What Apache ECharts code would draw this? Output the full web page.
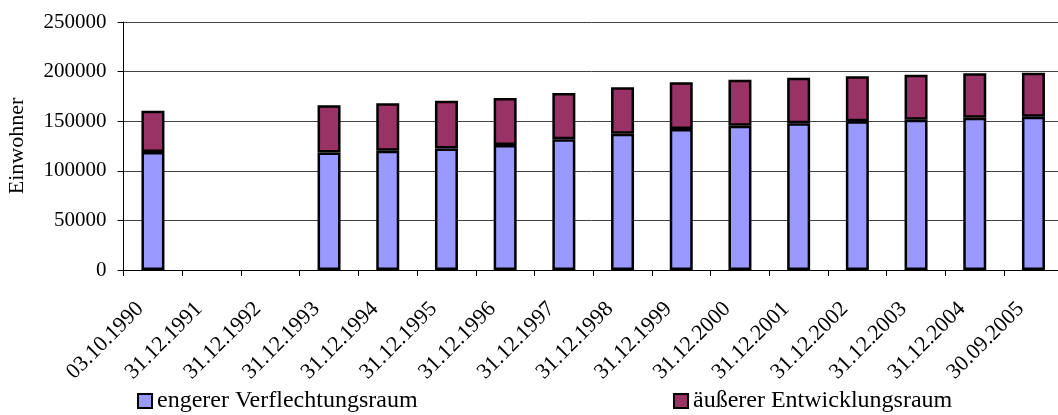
<!DOCTYPE html>
<html>
<head>
<meta charset="utf-8">
<script src="https://cdn.jsdelivr.net/npm/echarts@6/dist/echarts.min.js"></script>
<style>
  html, body { margin: 0; padding: 0; background: #fff; }
  #chart { width: 1058px; height: 415px; }
</style>
</head>
<body>
<div id="chart"></div>
<script>
// Stichtage
const categories = [
  '03.10.1990', '31.12.1991', '31.12.1992', '31.12.1993', '31.12.1994',
  '31.12.1995', '31.12.1996', '31.12.1997', '31.12.1998', '31.12.1999',
  '31.12.2000', '31.12.2001', '31.12.2002', '31.12.2003', '31.12.2004',
  '30.09.2005'
];

// Einwohner im engeren Verflechtungsraum
const engererVerflechtungsraum = [
  119000, null, null, 118500, 120300, 122600, 126000, 131700, 137400,
  142100, 145500, 147900, 149900, 151500, 153500, 154500
];

// Einwohner im äußeren Entwicklungsraum
const aeussererEntwicklungsraum = [
  41500, null, null, 47700, 47700, 48100, 47400, 46700, 46800,
  47100, 46300, 46000, 45300, 45400, 44800, 44400
];

const yTicks = [0, 50000, 100000, 150000, 200000, 250000];

const font = '"Liberation Serif", "Times New Roman", serif';

const chart = echarts.init(document.getElementById('chart'), null, { renderer: 'canvas' });

function makeLegend(name, left) {
  return {
    data: [name],
    left: left,
    top: 389,
    padding: 0,
    icon: 'rect',
    itemWidth: 14, itemHeight: 14, itemGap: 0,
    textStyle: { fontFamily: font, fontSize: 24, color: '#000' },
    itemStyle: { borderColor: '#000', borderWidth: 2 }
  };
}

chart.setOption({
  animation: false,
  backgroundColor: '#ffffff',
  textStyle: { fontFamily: font, color: '#000' },
  grid: {
    left: 123.6, top: 22, bottom: 145, right: -4.8,
    containLabel: false,
    outerBoundsMode: 'none'
  },
  legend: [
    makeLegend('engerer Verflechtungsraum', 137),
    makeLegend('äußerer Entwicklungsraum', 673)
  ],
  xAxis: {
    type: 'category',
    data: categories,
    axisLine: { lineStyle: { color: '#000', width: 1 } },
    axisTick: { show: true, length: 6, lineStyle: { color: '#000' } },
    axisLabel: {
      interval: 0,
      rotate: 45,
      margin: 23,
      fontFamily: font,
      fontSize: 22,
      color: '#000',
      // trailing spacer pulls the rotated date slightly left of its tick
      formatter: (v) => '{d|' + v + '}{s|}',
      rich: {
        d: { fontFamily: font, fontSize: 22, color: '#000' },
        s: { width: 18 }
      }
    }
  },
  yAxis: {
    type: 'value',
    min: yTicks[0],
    max: yTicks[yTicks.length - 1],
    interval: 50000,
    name: 'Einwohner',
    nameLocation: 'middle',
    nameGap: 95,
    nameRotate: 90,
    nameTextStyle: { fontFamily: font, fontSize: 22, color: '#000' },
    axisLine: { show: true, lineStyle: { color: '#000', width: 1 } },
    axisTick: { show: true, length: 6, lineStyle: { color: '#000' } },
    axisLabel: {
      margin: 17, fontFamily: font, fontSize: 21, color: '#000',
      formatter: (v) => String(v)
    },
    splitLine: { show: true, lineStyle: { color: '#444', width: 1 } }
  },
  series: [
    {
      name: 'engerer Verflechtungsraum',
      type: 'bar',
      stack: 'einwohner',
      data: engererVerflechtungsraum,
      barWidth: 23,
      itemStyle: { color: '#9999FF', borderColor: '#000', borderWidth: 2.5 }
    },
    {
      name: 'äußerer Entwicklungsraum',
      type: 'bar',
      stack: 'einwohner',
      data: aeussererEntwicklungsraum,
      barWidth: 23,
      itemStyle: { color: '#993366', borderColor: '#000', borderWidth: 2.5 }
    }
  ]
});
</script>
</body>
</html>
